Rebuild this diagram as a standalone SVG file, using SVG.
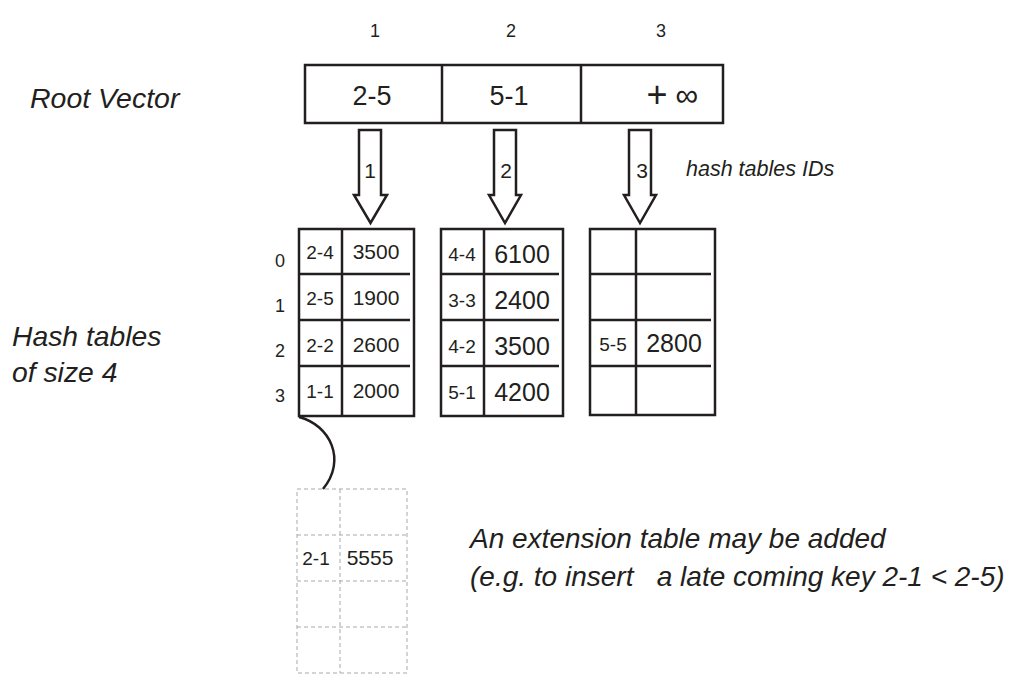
<svg xmlns="http://www.w3.org/2000/svg" width="1024" height="689" viewBox="0 0 1024 689">
<style>
text{font-family:"Liberation Sans",Arial,sans-serif;fill:#231f20}
.it{font-style:italic}
.box{fill:none;stroke:#231f20;stroke-width:2.5}
.ln{stroke:#231f20;stroke-width:2.5}
.arrow{fill:#fff;stroke:#231f20;stroke-width:2.5;stroke-linejoin:miter}
.dash{fill:none;stroke:#a7a9ac;stroke-width:1;stroke-dasharray:4 3}
.k{font-size:19px;text-anchor:middle}
.v{font-size:21px;text-anchor:middle}
.vb{font-size:25px;text-anchor:middle}
.idx{font-size:18px;text-anchor:middle}
</style>
<rect width="1024" height="689" fill="#fff"/>

<g id="labels">
<text class="it" x="30" y="108" font-size="28.5">Root Vector</text>
<text class="it" x="12" y="346" font-size="28.3">Hash tables</text>
<text class="it" x="12" y="382" font-size="28.3">of size 4</text>
<text class="it" x="686" y="176" font-size="21.5">hash tables IDs</text>
<text class="it" x="470" y="548" font-size="28" xml:space="preserve">An extension table may be added</text>
<text class="it" x="470" y="586" font-size="28" xml:space="preserve">(e.g. to insert   a late coming key 2-1 &lt; 2-5)</text>
<text class="idx" x="375" y="37" font-size="19">1</text>
<text class="idx" x="511" y="37" font-size="19">2</text>
<text class="idx" x="661" y="37" font-size="19">3</text>
<text class="idx" x="280" y="267">0</text>
<text class="idx" x="280" y="312">1</text>
<text class="idx" x="280" y="357">2</text>
<text class="idx" x="280" y="402">3</text>
</g>

<g id="root-vector">
<rect class="box" x="305" y="65" width="418" height="58"/>
<line class="ln" x1="442" y1="65" x2="442" y2="123"/>
<line class="ln" x1="581" y1="65" x2="581" y2="123"/>
<text x="372" y="105" font-size="27" text-anchor="middle">2-5</text>
<text x="509" y="105" font-size="27" text-anchor="middle">5-1</text>
<text x="657" y="107" font-size="36" text-anchor="middle" font-weight="300">+</text>
<text x="687" y="106" font-size="32" text-anchor="middle">∞</text>
</g>

<g id="connectors">
<polygon class="arrow" points="359,130 381,130 381,195 387,195 370.5,223 354,195 359,195"/>
<polygon class="arrow" points="494,130 516,130 516,195 521,195 505,223 489,195 494,195"/>
<polygon class="arrow" points="629,130 651,130 651,195 656,195 640,223 624,195 629,195"/>
<text x="370" y="178" font-size="21" text-anchor="middle">1</text>
<text x="506" y="178" font-size="21" text-anchor="middle">2</text>
<text x="642" y="178" font-size="21" text-anchor="middle">3</text>
<path d="M299,417 C330,425 347,460 323,489" fill="none" stroke="#231f20" stroke-width="2.5"/>
</g>

<g id="table-1">
<rect class="box" x="299" y="229" width="115" height="187"/>
<line class="ln" x1="342" y1="229" x2="342" y2="416"/>
<line class="ln" x1="299" y1="274" x2="410" y2="274"/>
<line class="ln" x1="299" y1="320" x2="410" y2="320"/>
<line class="ln" x1="299" y1="366" x2="410" y2="366"/>
<text class="k" x="320" y="259">2-4</text><text class="v" x="376" y="259">3500</text>
<text class="k" x="320" y="305">2-5</text><text class="v" x="376" y="305">1900</text>
<text class="k" x="320" y="352">2-2</text><text class="v" x="376" y="352">2600</text>
<text class="k" x="320" y="398">1-1</text><text class="v" x="376" y="398">2000</text>
</g>

<g id="table-2">
<rect class="box" x="441" y="229" width="122" height="187"/>
<line class="ln" x1="484" y1="229" x2="484" y2="416"/>
<line class="ln" x1="441" y1="274" x2="559" y2="274"/>
<line class="ln" x1="441" y1="320" x2="559" y2="320"/>
<line class="ln" x1="441" y1="366" x2="559" y2="366"/>
<text class="k" x="462" y="261">4-4</text><text class="vb" x="522" y="263">6100</text>
<text class="k" x="462" y="307">3-3</text><text class="vb" x="522" y="309">2400</text>
<text class="k" x="462" y="353">4-2</text><text class="vb" x="522" y="355">3500</text>
<text class="k" x="462" y="399">5-1</text><text class="vb" x="522" y="401">4200</text>
</g>

<g id="table-3">
<rect class="box" x="590" y="229" width="125" height="186"/>
<line class="ln" x1="636" y1="229" x2="636" y2="415"/>
<line class="ln" x1="590" y1="274" x2="711" y2="274"/>
<line class="ln" x1="590" y1="320" x2="711" y2="320"/>
<line class="ln" x1="590" y1="366" x2="711" y2="366"/>
<text class="k" x="613" y="351">5-5</text><text class="vb" x="674" y="352">2800</text>
</g>

<g id="extension-table">
<rect class="dash" x="297" y="489" width="110" height="184"/>
<line class="dash" x1="340" y1="489" x2="340" y2="673"/>
<line class="dash" x1="297" y1="535" x2="407" y2="535"/>
<line class="dash" x1="297" y1="581" x2="407" y2="581"/>
<line class="dash" x1="297" y1="627" x2="407" y2="627"/>
<text class="k" x="316" y="565">2-1</text><text class="v" x="370" y="565">5555</text>
</g>
</svg>
